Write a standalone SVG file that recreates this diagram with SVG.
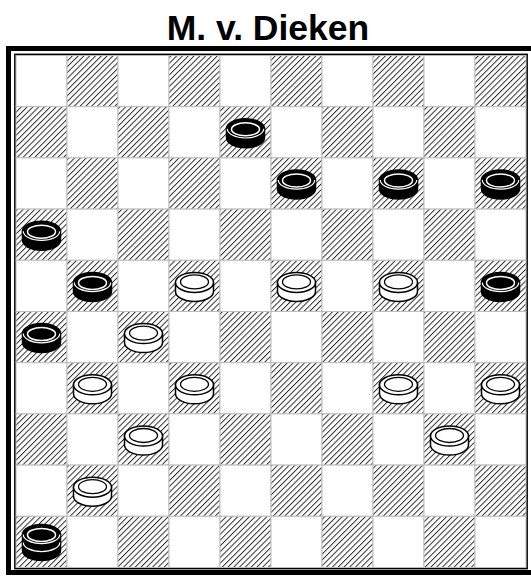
<svg xmlns="http://www.w3.org/2000/svg" xmlns:xlink="http://www.w3.org/1999/xlink" width="531" height="576" viewBox="0 0 531 576">
<style>
.title{font-family:"Liberation Sans",Arial,sans-serif;font-weight:bold;font-size:35.5px;fill:#000}
.lt{fill:#fff;stroke:#bdbdbd;stroke-width:1}
.dk{fill:url(#hatch);stroke:#bdbdbd;stroke-width:1}
</style>
<defs>
<pattern id="hatch" patternUnits="userSpaceOnUse" width="4.1" height="4.1" patternTransform="rotate(45)">
<rect width="4.1" height="4.1" fill="#fff"/>
<line x1="0.5" y1="0" x2="0.5" y2="4.1" stroke="#1a1a1a" stroke-width="0.9"/>
</pattern>
<g id="bm">
<path d="M-19,-3.5 L-19,5.5 A19,10 0 0 0 19,5.5 L19,-3.5 Z" fill="#000" stroke="#000" stroke-width="1.5"/>
<ellipse cx="0" cy="-3.5" rx="19" ry="10" fill="#000" stroke="#000" stroke-width="1.5"/>
<path d="M-18.2,-3.5 A18.2,9.2 0 0 0 18.2,-3.5" fill="none" stroke="#fff" stroke-width="1.2"/>
<ellipse cx="0" cy="-3" rx="14" ry="6.5" fill="none" stroke="#fff" stroke-width="1.5"/>
</g>
<g id="wm">
<path d="M-19,-3.5 L-19,5.5 A19,10 0 0 0 19,5.5 L19,-3.5 Z" fill="#fff" stroke="#000" stroke-width="1.5"/>
<ellipse cx="0" cy="-3.5" rx="19" ry="10" fill="#fff" stroke="#000" stroke-width="1.5"/>
<ellipse cx="0" cy="-4" rx="14" ry="7" fill="none" stroke="#000" stroke-width="1.3"/>
</g>
<g id="bk">
<path d="M-19,0.5 L-19,8.5 A19,10 0 0 0 19,8.5 L19,0.5 Z" fill="#000" stroke="#000" stroke-width="1.5"/>
<path d="M-19,-7.5 L-19,0.5 A19,10 0 0 0 19,0.5 L19,-7.5 Z" fill="#000" stroke="#000" stroke-width="1.5"/>
<path d="M-18.2,0.5 A18.2,9.2 0 0 0 18.2,0.5" fill="none" stroke="#fff" stroke-width="1.2"/>
<ellipse cx="0" cy="-7.5" rx="19" ry="10" fill="#000" stroke="#000" stroke-width="1.5"/>
<path d="M-18.2,-7.5 A18.2,9.2 0 0 0 18.2,-7.5" fill="none" stroke="#fff" stroke-width="1.2"/>
<ellipse cx="0" cy="-7" rx="14" ry="6.5" fill="none" stroke="#fff" stroke-width="1.5"/>
</g>
</defs>
<rect width="531" height="576" fill="#fff"/>
<text class="title" x="268" y="39.5" text-anchor="middle">M. v. Dieken</text>
<rect x="8.5" y="48.5" width="540" height="524" fill="none" stroke="#000" stroke-width="5"/>
<rect x="15" y="54.5" width="512" height="514" fill="none" stroke="#000" stroke-width="1.8"/>
<g id="board">
<g id="row0">
<rect class="lt" x="16" y="55.5" width="51" height="51.2"/><rect class="dk" x="67" y="55.5" width="51" height="51.2"/><rect class="lt" x="118" y="55.5" width="51" height="51.2"/><rect class="dk" x="169" y="55.5" width="51" height="51.2"/><rect class="lt" x="220" y="55.5" width="51" height="51.2"/><rect class="dk" x="271" y="55.5" width="51" height="51.2"/><rect class="lt" x="322" y="55.5" width="51" height="51.2"/><rect class="dk" x="373" y="55.5" width="51" height="51.2"/><rect class="lt" x="424" y="55.5" width="51" height="51.2"/><rect class="dk" x="475" y="55.5" width="51" height="51.2"/>
</g>
<g id="row1">
<rect class="dk" x="16" y="106.7" width="51" height="51.2"/><rect class="lt" x="67" y="106.7" width="51" height="51.2"/><rect class="dk" x="118" y="106.7" width="51" height="51.2"/><rect class="lt" x="169" y="106.7" width="51" height="51.2"/><rect class="dk" x="220" y="106.7" width="51" height="51.2"/><rect class="lt" x="271" y="106.7" width="51" height="51.2"/><rect class="dk" x="322" y="106.7" width="51" height="51.2"/><rect class="lt" x="373" y="106.7" width="51" height="51.2"/><rect class="dk" x="424" y="106.7" width="51" height="51.2"/><rect class="lt" x="475" y="106.7" width="51" height="51.2"/>
</g>
<g id="row2">
<rect class="lt" x="16" y="157.9" width="51" height="51.2"/><rect class="dk" x="67" y="157.9" width="51" height="51.2"/><rect class="lt" x="118" y="157.9" width="51" height="51.2"/><rect class="dk" x="169" y="157.9" width="51" height="51.2"/><rect class="lt" x="220" y="157.9" width="51" height="51.2"/><rect class="dk" x="271" y="157.9" width="51" height="51.2"/><rect class="lt" x="322" y="157.9" width="51" height="51.2"/><rect class="dk" x="373" y="157.9" width="51" height="51.2"/><rect class="lt" x="424" y="157.9" width="51" height="51.2"/><rect class="dk" x="475" y="157.9" width="51" height="51.2"/>
</g>
<g id="row3">
<rect class="dk" x="16" y="209.1" width="51" height="51.2"/><rect class="lt" x="67" y="209.1" width="51" height="51.2"/><rect class="dk" x="118" y="209.1" width="51" height="51.2"/><rect class="lt" x="169" y="209.1" width="51" height="51.2"/><rect class="dk" x="220" y="209.1" width="51" height="51.2"/><rect class="lt" x="271" y="209.1" width="51" height="51.2"/><rect class="dk" x="322" y="209.1" width="51" height="51.2"/><rect class="lt" x="373" y="209.1" width="51" height="51.2"/><rect class="dk" x="424" y="209.1" width="51" height="51.2"/><rect class="lt" x="475" y="209.1" width="51" height="51.2"/>
</g>
<g id="row4">
<rect class="lt" x="16" y="260.3" width="51" height="51.2"/><rect class="dk" x="67" y="260.3" width="51" height="51.2"/><rect class="lt" x="118" y="260.3" width="51" height="51.2"/><rect class="dk" x="169" y="260.3" width="51" height="51.2"/><rect class="lt" x="220" y="260.3" width="51" height="51.2"/><rect class="dk" x="271" y="260.3" width="51" height="51.2"/><rect class="lt" x="322" y="260.3" width="51" height="51.2"/><rect class="dk" x="373" y="260.3" width="51" height="51.2"/><rect class="lt" x="424" y="260.3" width="51" height="51.2"/><rect class="dk" x="475" y="260.3" width="51" height="51.2"/>
</g>
<g id="row5">
<rect class="dk" x="16" y="311.5" width="51" height="51.2"/><rect class="lt" x="67" y="311.5" width="51" height="51.2"/><rect class="dk" x="118" y="311.5" width="51" height="51.2"/><rect class="lt" x="169" y="311.5" width="51" height="51.2"/><rect class="dk" x="220" y="311.5" width="51" height="51.2"/><rect class="lt" x="271" y="311.5" width="51" height="51.2"/><rect class="dk" x="322" y="311.5" width="51" height="51.2"/><rect class="lt" x="373" y="311.5" width="51" height="51.2"/><rect class="dk" x="424" y="311.5" width="51" height="51.2"/><rect class="lt" x="475" y="311.5" width="51" height="51.2"/>
</g>
<g id="row6">
<rect class="lt" x="16" y="362.7" width="51" height="51.2"/><rect class="dk" x="67" y="362.7" width="51" height="51.2"/><rect class="lt" x="118" y="362.7" width="51" height="51.2"/><rect class="dk" x="169" y="362.7" width="51" height="51.2"/><rect class="lt" x="220" y="362.7" width="51" height="51.2"/><rect class="dk" x="271" y="362.7" width="51" height="51.2"/><rect class="lt" x="322" y="362.7" width="51" height="51.2"/><rect class="dk" x="373" y="362.7" width="51" height="51.2"/><rect class="lt" x="424" y="362.7" width="51" height="51.2"/><rect class="dk" x="475" y="362.7" width="51" height="51.2"/>
</g>
<g id="row7">
<rect class="dk" x="16" y="413.9" width="51" height="51.2"/><rect class="lt" x="67" y="413.9" width="51" height="51.2"/><rect class="dk" x="118" y="413.9" width="51" height="51.2"/><rect class="lt" x="169" y="413.9" width="51" height="51.2"/><rect class="dk" x="220" y="413.9" width="51" height="51.2"/><rect class="lt" x="271" y="413.9" width="51" height="51.2"/><rect class="dk" x="322" y="413.9" width="51" height="51.2"/><rect class="lt" x="373" y="413.9" width="51" height="51.2"/><rect class="dk" x="424" y="413.9" width="51" height="51.2"/><rect class="lt" x="475" y="413.9" width="51" height="51.2"/>
</g>
<g id="row8">
<rect class="lt" x="16" y="465.1" width="51" height="51.2"/><rect class="dk" x="67" y="465.1" width="51" height="51.2"/><rect class="lt" x="118" y="465.1" width="51" height="51.2"/><rect class="dk" x="169" y="465.1" width="51" height="51.2"/><rect class="lt" x="220" y="465.1" width="51" height="51.2"/><rect class="dk" x="271" y="465.1" width="51" height="51.2"/><rect class="lt" x="322" y="465.1" width="51" height="51.2"/><rect class="dk" x="373" y="465.1" width="51" height="51.2"/><rect class="lt" x="424" y="465.1" width="51" height="51.2"/><rect class="dk" x="475" y="465.1" width="51" height="51.2"/>
</g>
<g id="row9">
<rect class="dk" x="16" y="516.3" width="51" height="51.2"/><rect class="lt" x="67" y="516.3" width="51" height="51.2"/><rect class="dk" x="118" y="516.3" width="51" height="51.2"/><rect class="lt" x="169" y="516.3" width="51" height="51.2"/><rect class="dk" x="220" y="516.3" width="51" height="51.2"/><rect class="lt" x="271" y="516.3" width="51" height="51.2"/><rect class="dk" x="322" y="516.3" width="51" height="51.2"/><rect class="lt" x="373" y="516.3" width="51" height="51.2"/><rect class="dk" x="424" y="516.3" width="51" height="51.2"/><rect class="lt" x="475" y="516.3" width="51" height="51.2"/>
</g>
</g>
<g id="pieces">
<g id="b-r1-c4"><use xlink:href="#bm" href="#bm" x="245.5" y="132.3"/></g>
<g id="b-r2-c5"><use xlink:href="#bm" href="#bm" x="296.5" y="183.5"/></g>
<g id="b-r2-c7"><use xlink:href="#bm" href="#bm" x="398.5" y="183.5"/></g>
<g id="b-r2-c9"><use xlink:href="#bm" href="#bm" x="500.5" y="183.5"/></g>
<g id="b-r3-c0"><use xlink:href="#bm" href="#bm" x="41.5" y="234.7"/></g>
<g id="b-r4-c1"><use xlink:href="#bm" href="#bm" x="92.5" y="285.9"/></g>
<g id="w-r4-c3"><use xlink:href="#wm" href="#wm" x="194.5" y="285.9"/></g>
<g id="w-r4-c5"><use xlink:href="#wm" href="#wm" x="296.5" y="285.9"/></g>
<g id="w-r4-c7"><use xlink:href="#wm" href="#wm" x="398.5" y="285.9"/></g>
<g id="b-r4-c9"><use xlink:href="#bm" href="#bm" x="500.5" y="285.9"/></g>
<g id="b-r5-c0"><use xlink:href="#bm" href="#bm" x="41.5" y="337.1"/></g>
<g id="w-r5-c2"><use xlink:href="#wm" href="#wm" x="143.5" y="337.1"/></g>
<g id="w-r6-c1"><use xlink:href="#wm" href="#wm" x="92.5" y="388.3"/></g>
<g id="w-r6-c3"><use xlink:href="#wm" href="#wm" x="194.5" y="388.3"/></g>
<g id="w-r6-c7"><use xlink:href="#wm" href="#wm" x="398.5" y="388.3"/></g>
<g id="w-r6-c9"><use xlink:href="#wm" href="#wm" x="500.5" y="388.3"/></g>
<g id="w-r7-c2"><use xlink:href="#wm" href="#wm" x="143.5" y="439.5"/></g>
<g id="w-r7-c8"><use xlink:href="#wm" href="#wm" x="449.5" y="439.5"/></g>
<g id="w-r8-c1"><use xlink:href="#wm" href="#wm" x="92.5" y="490.7"/></g>
<g id="bk-r9-c0"><use xlink:href="#bk" href="#bk" x="41.5" y="541.9"/></g>
</g>
<g id="connectors"/>
</svg>
